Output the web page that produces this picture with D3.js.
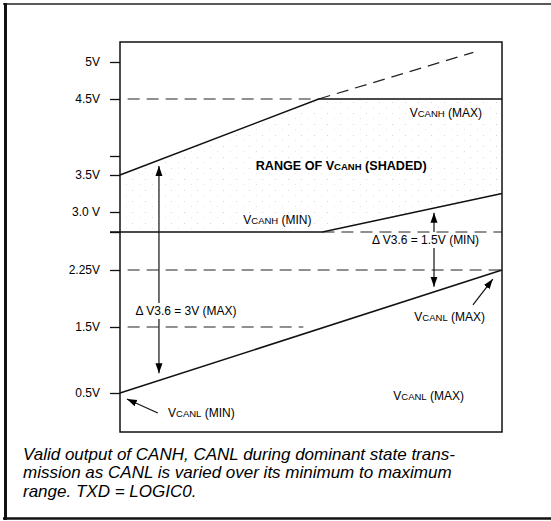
<!DOCTYPE html>
<html lang="en">
<head>
    <meta charset="UTF-8">
    <title>CANH / CANL output range</title>
    <script src="https://d3js.org/d3.v7.min.js"></script>
    <style>
        body { margin: 0; background: #fff; }
        .lbl { font: 12px "Liberation Sans", Arial, sans-serif; fill: #000; }
        .caption { font: italic 17px "Liberation Sans", Arial, sans-serif; fill: #000; }
    </style>
</head>
<body>
    <svg width="551" height="521"></svg>
    <script>
        // tick values (volts) and their labels
        const tickValues = [5, 4.5, 3.75, 3.5, 3.0, 2.75, 2.25, 1.5, 0.5];
        const tickLabels = ["5V", "4.5V", "", "3.5V", "3.0 V", "", "2.25V", "1.5V", "0.5V"];

        // x = position along CANL sweep (0 = min, 1 = max), y = volts
        const vcanl     = [[0, 0.5], [1, 2.25]];
        const vcanhMax  = [[0, 3.5], [0.52, 4.5], [1, 4.5]];
        const vcanhExt  = [[0.52, 4.5], [0.925, 5.13]];
        const vcanhMin  = [[0, 2.75], [0.53, 2.75], [1, 3.25]];

        // dashed reference levels: [volts, from x, to x]
        const refLines = [[4.5, 0.02, 0.52], [2.75, 0.53, 1], [2.25, 0.02, 1], [1.5, 0.02, 0.48]];

        // annotations
        const bigArrow   = {x: 0.102, top: 3.62, bottom: 0.80, text: "\u0394 V3.6 = 3V (MAX)", tx: 0.173, ty: 1.71};
        const smallArrow = {x: 0.822, top: 2.99, bottom: 2.03, text: "\u0394 V3.6 = 1.5V (MIN)", tx: 0.80, ty: 2.645};
        const pointers = [
            {from: [0.099, 0.244], to: [0.018, 0.423]},
            {from: [0.924, 1.79], to: [0.976, 2.13]}
        ];
        const labels = [
            {x: 0.853, y: 4.316, v: "V", sub: "CANH", rest: " (MAX)"},
            {x: 0.579, y: 3.62, pre: "RANGE OF ", v: "V", sub: "CANH", rest: " (SHADED)", bold: true},
            {x: 0.412, y: 2.90, v: "V", sub: "CANH", rest: " (MIN)"},
            {x: 0.863, y: 1.63, v: "V", sub: "CANL", rest: " (MAX)"},
            {x: 0.808, y: 0.46, v: "V", sub: "CANL", rest: " (MAX)"},
            {x: 0.213, y: 0.244, v: "V", sub: "CANL", rest: " (MIN)"}
        ];
        const caption = [
            "Valid output of CANH, CANL during dominant state trans-",
            "mission as CANL is varied over its minimum to maximum",
            "range. TXD = LOGIC0."
        ];

        const svg = d3.select("svg");

        // hand-drawn figure: voltage spacing isn't quite even, so piecewise scale
        const x = d3.scaleLinear().domain([0, 1]).range([120, 502]);
        const y = d3.scaleLinear()
            .domain([0, 0.5, 1.5, 2.25, 2.75, 3.0, 3.5, 4.5, 5, 5.5])
            .range([432, 393, 327, 270, 232, 212, 175, 99, 62, 25]);

        // shading pattern (sparse grey speckle)
        const defs = svg.append("defs");
        const pat = defs.append("pattern").attr("id", "speck")
            .attr("width", 13).attr("height", 11).attr("patternUnits", "userSpaceOnUse");
        pat.append("rect").attr("x", 2).attr("y", 3).attr("width", 1).attr("height", 1).attr("fill", "#d4d4d4");
        pat.append("rect").attr("x", 9).attr("y", 8).attr("width", 1).attr("height", 1).attr("fill", "#e2e2e2");

        defs.append("marker").attr("id", "head")
            .attr("viewBox", "0 0 10 10").attr("refX", 10).attr("refY", 5)
            .attr("markerWidth", 10).attr("markerHeight", 10)
            .attr("markerUnits", "userSpaceOnUse")
            .attr("orient", "auto")
            .append("path").attr("d", "M0,1.5L10,5L0,8.5Z").attr("fill", "#000");

        // outer frame
        svg.append("line").attr("x1", 3).attr("x2", 551).attr("y1", 4).attr("y2", 4)
            .attr("stroke", "#222").attr("stroke-width", 1.5);
        svg.append("line").attr("x1", 3).attr("x2", 551).attr("y1", 518.5).attr("y2", 518.5)
            .attr("stroke", "#111").attr("stroke-width", 2.5);
        svg.append("line").attr("x1", 5.5).attr("x2", 5.5).attr("y1", 3).attr("y2", 520)
            .attr("stroke", "#111").attr("stroke-width", 3);

        // shaded range between VCANH min and max
        const interp = (pts, t) => {
            for (let i = 1; i < pts.length; i++) {
                if (t <= pts[i][0]) {
                    const a = pts[i - 1], b = pts[i];
                    return a[1] + (b[1] - a[1]) * (t - a[0]) / (b[0] - a[0]);
                }
            }
            return pts[pts.length - 1][1];
        };
        const xs = Array.from(new Set([...vcanhMax.map(d => d[0]), ...vcanhMin.map(d => d[0])]))
            .sort((a, b) => a - b);
        svg.append("path")
            .datum(xs)
            .attr("fill", "url(#speck)")
            .attr("d", d3.area()
                .x(t => x(t))
                .y0(t => y(interp(vcanhMin, t)))
                .y1(t => y(interp(vcanhMax, t))));

        // plot box
        svg.append("rect").attr("x", x(0)).attr("y", 42)
            .attr("width", x(1) - x(0)).attr("height", 432 - 42)
            .attr("fill", "none").attr("stroke", "#111").attr("stroke-width", 1.5);

        // y axis ticks
        const yAxis = svg.append("g").attr("transform", `translate(${x(0)},0)`)
            .call(d3.axisLeft(y).tickValues(tickValues).tickSize(10).tickPadding(10)
                .tickFormat((d, i) => tickLabels[i]));
        yAxis.select(".domain").remove();
        yAxis.selectAll(".tick line").attr("stroke", "#111").attr("stroke-width", 1.3);
        yAxis.selectAll(".tick text").attr("fill", "#000")
            .style("font-size", "12px").style("font-family", "'Liberation Sans', Arial, sans-serif");

        const line = d3.line().x(d => x(d[0])).y(d => y(d[1]));

        // dashed levels
        svg.selectAll(".ref").data(refLines).join("line")
            .attr("class", "ref")
            .attr("x1", d => x(d[1])).attr("x2", d => x(d[2]))
            .attr("y1", d => y(d[0])).attr("y2", d => y(d[0]))
            .attr("stroke", "#222").attr("stroke-width", 1.2)
            .attr("stroke-dasharray", "12,7");

        svg.append("path").datum(vcanhExt).attr("d", line)
            .attr("fill", "none").attr("stroke", "#222").attr("stroke-width", 1.2)
            .attr("stroke-dasharray", "12,7");

        // solid curves
        [vcanl, vcanhMax, vcanhMin].forEach(pts => {
            svg.append("path").datum(pts).attr("d", line)
                .attr("fill", "none").attr("stroke", "#111").attr("stroke-width", 1.5);
        });

        // VCANH (MIN) flat part extends left to the tick
        svg.append("line").attr("x1", 110).attr("x2", x(0)).attr("y1", y(2.75)).attr("y2", y(2.75))
            .attr("stroke", "#111").attr("stroke-width", 1.5);

        // double arrows
        [bigArrow, smallArrow].forEach(a => {
            const mid = y(a.ty);
            svg.append("line").attr("x1", x(a.x)).attr("x2", x(a.x))
                .attr("y1", mid - 8).attr("y2", y(a.top))
                .attr("stroke", "#111").attr("stroke-width", 1.2).attr("marker-end", "url(#head)");
            svg.append("line").attr("x1", x(a.x)).attr("x2", x(a.x))
                .attr("y1", mid + 8).attr("y2", y(a.bottom))
                .attr("stroke", "#111").attr("stroke-width", 1.2).attr("marker-end", "url(#head)");
            svg.append("text").attr("class", "lbl")
                .attr("x", x(a.tx)).attr("y", mid)
                .attr("text-anchor", "middle").attr("dominant-baseline", "central")
                .text(a.text);
        });

        // pointer arrows
        pointers.forEach(p => {
            svg.append("line")
                .attr("x1", x(p.from[0])).attr("y1", y(p.from[1]))
                .attr("x2", x(p.to[0])).attr("y2", y(p.to[1]))
                .attr("stroke", "#111").attr("stroke-width", 1.2).attr("marker-end", "url(#head)");
        });

        // labels with small-caps subscripts
        labels.forEach(l => {
            const t = svg.append("text").attr("class", "lbl")
                .attr("x", x(l.x)).attr("y", y(l.y))
                .attr("text-anchor", "middle").attr("dominant-baseline", "central")
                .style("font-weight", l.bold ? "bold" : null)
                .style("font-size", l.bold ? "12.6px" : null);
            if (l.pre) t.append("tspan").text(l.pre);
            t.append("tspan").text(l.v);
            t.append("tspan").style("font-size", "9.5px").text(l.sub);
            t.append("tspan").text(l.rest);
        });

        // caption
        svg.selectAll(".caption").data(caption).join("text")
            .attr("class", "caption")
            .attr("x", 23).attr("y", (d, i) => 459.5 + i * 18.5)
            .text(d => d);
    </script>
</body>
</html>
